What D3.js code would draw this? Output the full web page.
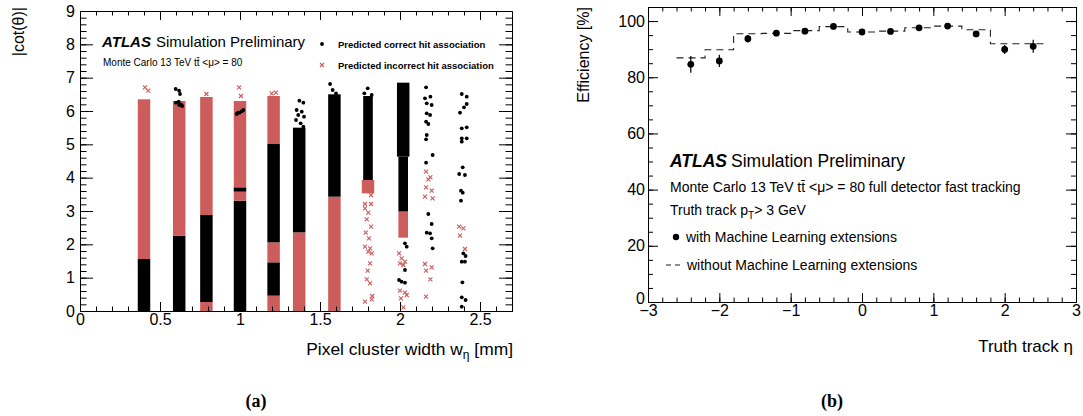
<!DOCTYPE html>
<html>
<head>
<meta charset="utf-8">
<script src="https://cdn.jsdelivr.net/npm/d3@7"></script>
<style>
  body { margin: 0; background: #fff; }
  svg { display: block; font-family: "Liberation Sans", Arial, sans-serif; }
</style>
</head>
<body>
<div id="chart"></div>
<script>
const width = 1083, height = 416;

// ---- panel (a) data: cluster width [mm] vs |cot(theta)|
const xTicksA = [0, 0.5, 1, 1.5, 2, 2.5];
const yTicksA = [0, 1, 2, 3, 4, 5, 6, 7, 8, 9];
// dense parts of each column: [width, from, to, type, dense]
const bandsA = [
  [0.40, 0, 1.56, 'c', 1], [0.40, 1.56, 6.35, 'i', 1],
  [0.62, 0, 2.26, 'c', 1], [0.62, 2.26, 6.30, 'i', 1],
  [0.79, 0, 0.27, 'i', 1], [0.79, 0.27, 2.88, 'c', 1], [0.79, 2.88, 6.42, 'i', 1],
  [1.00, 0, 3.31, 'c', 1], [1.00, 3.31, 3.58, 'i', 1], [1.00, 3.58, 3.71, 'c', 1], [1.00, 3.71, 6.30, 'i', 1],
  [1.21, 0, 0.46, 'i', 1], [1.21, 0.46, 1.46, 'c', 1], [1.21, 1.46, 2.06, 'i', 1],
  [1.21, 2.06, 5.01, 'c', 1], [1.21, 5.01, 6.45, 'i', 1],
  [1.37, 0, 2.36, 'i', 1], [1.37, 2.36, 5.50, 'c', 1],
  [1.59, 0, 3.43, 'i', 1], [1.59, 3.43, 6.50, 'c', 1],
  [1.80, 3.53, 3.93, 'i', 1], [1.80, 3.93, 6.45, 'c', 0],
  [2.02, 4.63, 6.85, 'c', 1], [2.02, 2.98, 4.63, 'c', 0], [2.02, 2.20, 2.98, 'i', 0]
];
const correctPts = [
  [0.598, 6.66], [0.619, 6.61], [0.625, 6.51], [0.600, 6.25], [0.617, 6.28], [0.631, 6.20], [0.639, 6.15], [0.620, 6.18],
  [0.979, 5.91], [0.996, 5.95], [1.011, 5.99], [1.021, 6.03], [0.988, 5.95],
  [1.371, 6.31], [1.396, 6.25], [1.354, 6.03], [1.386, 5.98], [1.364, 5.88], [1.400, 5.83], [1.350, 5.73], [1.379, 5.63], [1.396, 5.53],
  [1.563, 6.81], [1.579, 6.63], [1.600, 6.53],
  [1.798, 6.68], [1.777, 6.53], [1.823, 6.48],
  [2.031, 2.03], [2.042, 1.93], [2.031, 1.23], [1.994, 0.93], [2.010, 0.88], [2.031, 0.85],
  [2.163, 6.71], [2.156, 6.38], [2.190, 6.43], [2.167, 6.23], [2.198, 6.18], [2.167, 5.93], [2.188, 5.88],
  [2.163, 5.68], [2.177, 5.61], [2.167, 5.28], [2.163, 5.15], [2.204, 4.68], [2.163, 4.45], [2.177, 2.91],
  [2.198, 2.61], [2.167, 2.35], [2.188, 2.33], [2.198, 2.18], [2.204, 1.88],
  [2.386, 6.51], [2.417, 6.43], [2.400, 6.11], [2.375, 5.95], [2.417, 6.21], [2.386, 5.48], [2.417, 5.51],
  [2.386, 5.18], [2.386, 5.08], [2.417, 5.18], [2.392, 4.31], [2.370, 4.11], [2.406, 4.08], [2.381, 3.61],
  [2.392, 3.55], [2.381, 3.31], [2.396, 1.73], [2.410, 1.65], [2.386, 1.48], [2.406, 1.48], [2.390, 0.86],
  [2.386, 0.41], [2.410, 0.33], [2.386, 0.13]
];
const incorrectPts = [
  [0.406, 6.71], [0.427, 6.61], [0.790, 6.51], [0.994, 6.71], [1.006, 6.45], [1.198, 6.53], [1.225, 6.55],
  [1.819, 3.48], [1.781, 3.21], [1.819, 3.21], [1.781, 3.08], [1.802, 2.95], [1.792, 2.75], [1.819, 2.53],
  [1.786, 2.35], [1.806, 2.18], [1.781, 1.93], [1.813, 1.88], [1.802, 1.78], [1.823, 1.73], [1.813, 1.43],
  [1.798, 1.21], [1.792, 0.95], [1.813, 0.83], [1.827, 0.45], [1.823, 0.35], [1.781, 0.28],
  [1.994, 1.73], [2.010, 1.58], [2.031, 1.48], [2.000, 1.43], [2.021, 1.38], [2.000, 0.61], [2.031, 0.55],
  [2.006, 0.38], [2.042, 0.48], [2.021, 0.11],
  [2.163, 4.18], [2.190, 4.01], [2.177, 3.95], [2.163, 3.71], [2.198, 3.61], [2.156, 3.43], [2.204, 3.38],
  [2.156, 1.41], [2.198, 1.31], [2.163, 1.21], [2.190, 0.95], [2.163, 0.43],
  [2.370, 2.53], [2.396, 2.48], [2.375, 2.26], [2.406, 1.86]
];

// ---- panel (b) data: efficiency vs truth eta
const xTicksB = [-3, -2, -1, 0, 1, 2, 3];
const yTicksB = [0, 20, 40, 60, 80, 100];
const etaBins = [-2.4, -2.0, -1.6, -1.2, -0.8, -0.4, 0, 0.4, 0.8, 1.2, 1.6, 2.0, 2.4];
const effML = [84.6, 85.8, 93.7, 95.7, 96.4, 98.1, 96.1, 96.3, 97.6, 98.2, 95.4, 89.9, 91.0];
const effErr = [3.0, 2.2, 1.3, 0.6, 0.5, 0.5, 0.5, 0.5, 0.5, 0.5, 0.7, 1.6, 2.3];
const effNoML = [86.9, 89.8, 95.5, 95.6, 96.6, 98.0, 96.1, 96.4, 97.6, 98.2, 96.9, 91.9, 91.9];
const binHalf = 0.2;

const red = '#cd5c5c';

const svg = d3.select('#chart').append('svg')
  .attr('width', width)
  .attr('height', height)
  .attr('viewBox', [0, 0, width, height]);

const xA = d3.scaleLinear().domain([0, 2.7]).range([80, 512]);
const yA = d3.scaleLinear().domain([0, 9]).range([311, 11]);
const xB = d3.scaleLinear().domain([-3, 3]).range([648, 1076]);
const yB = d3.scaleLinear().domain([0, 105]).range([302, 7]);

// ROOT-like frame: ticks inside on all four sides
function drawFrame(x, y, xt, yt, xMinor, yMinor, tl, pad) {
  const [x0, x1] = x.range();
  const [y0, y1] = y.range();
  const g = svg.append('g').attr('class', 'frame');
  const style = sel => {
    sel.attr('font-size', 16).attr('font-family', '"Liberation Sans", Arial, sans-serif');
    sel.selectAll('path, line').attr('stroke', '#000');
    sel.selectAll('text').attr('fill', '#000');
  };
  g.append('g').attr('transform', `translate(0,${y0})`)
    .call(d3.axisBottom(x).tickValues(xt).tickSize(-tl.xMaj).tickSizeOuter(0).tickPadding(pad.x).tickFormat(d3.format('')))
    .call(style);
  g.append('g').attr('transform', `translate(0,${y0})`)
    .call(d3.axisBottom(x).tickValues(xMinor).tickSize(-tl.xMin).tickSizeOuter(0).tickFormat(''))
    .call(style);
  g.append('g').attr('transform', `translate(0,${y1})`)
    .call(d3.axisTop(x).tickValues(xt).tickSize(-tl.xMaj).tickSizeOuter(0).tickFormat(''))
    .call(style);
  g.append('g').attr('transform', `translate(0,${y1})`)
    .call(d3.axisTop(x).tickValues(xMinor).tickSize(-tl.xMin).tickSizeOuter(0).tickFormat(''))
    .call(style);
  g.append('g').attr('transform', `translate(${x0},0)`)
    .call(d3.axisLeft(y).tickValues(yt).tickSize(-tl.yMaj).tickSizeOuter(0).tickPadding(pad.y).tickFormat(d3.format('')))
    .call(style);
  g.append('g').attr('transform', `translate(${x0},0)`)
    .call(d3.axisLeft(y).tickValues(yMinor).tickSize(-tl.yMin).tickSizeOuter(0).tickFormat(''))
    .call(style);
  g.append('g').attr('transform', `translate(${x1},0)`)
    .call(d3.axisRight(y).tickValues(yt).tickSize(-tl.yMaj).tickSizeOuter(0).tickFormat(''))
    .call(style);
  g.append('g').attr('transform', `translate(${x1},0)`)
    .call(d3.axisRight(y).tickValues(yMinor).tickSize(-tl.yMin).tickSizeOuter(0).tickFormat(''))
    .call(style);
  return g;
}

// ---- panel (a)
const plotA = svg.append('g').attr('class', 'scatter');
plotA.selectAll('.band')
  .data(bandsA)
  .join('rect')
    .attr('class', 'band')
    .attr('x', d => xA(d[0] - (d[4] ? 0.039 : 0.03)))
    .attr('width', d => xA(d[4] ? 0.078 : 0.06) - xA(0))
    .attr('y', d => yA(d[2]))
    .attr('height', d => yA(d[1]) - yA(d[2]))
    .attr('fill', d => d[3] === 'c' ? '#000' : red);
plotA.selectAll('.bad')
  .data(incorrectPts)
  .join('path')
    .attr('class', 'bad')
    .attr('transform', d => `translate(${xA(d[0])},${yA(d[1])})`)
    .attr('d', 'M-2,-2L2,2M-2,2L2,-2')
    .attr('stroke', red)
    .attr('stroke-width', 1.1);
plotA.selectAll('.good')
  .data(correctPts)
  .join('circle')
    .attr('class', 'good')
    .attr('cx', d => xA(d[0]))
    .attr('cy', d => yA(d[1]))
    .attr('r', 1.9)
    .attr('fill', '#000');

drawFrame(xA, yA, xTicksA, yTicksA,
  d3.range(0, 27).map(i => i / 10), d3.range(0, 46).map(i => i / 5),
  {xMaj: 9, xMin: 4.5, yMaj: 13, yMin: 6.5}, {x: 2.5, y: 5});

svg.append('text')
    .attr('transform', 'translate(24,7) rotate(-90)')
    .attr('text-anchor', 'end')
    .attr('font-size', 16)
    .text('|cot(θ)|');
const xlabA = svg.append('text')
    .attr('x', 513).attr('y', 355)
    .attr('text-anchor', 'end')
    .attr('font-size', 17.4);
xlabA.append('tspan').text('Pixel cluster width w');
xlabA.append('tspan').attr('dy', 4).attr('font-size', 12).text('η');
xlabA.append('tspan').attr('dy', -4).text(' [mm]');

const atlasA = svg.append('text').attr('x', 102).attr('y', 47).attr('font-size', 15);
atlasA.append('tspan').attr('font-weight', 'bold').attr('font-style', 'italic').text('ATLAS');
atlasA.append('tspan').attr('dx', 5).text('Simulation Preliminary');
svg.append('text').attr('x', 103).attr('y', 66).attr('font-size', 10)
    .text('Monte Carlo 13 TeV tt\u0304 <μ> = 80');

svg.append('circle').attr('cx', 322).attr('cy', 44).attr('r', 1.9).attr('fill', '#000');
svg.append('path').attr('transform', 'translate(322,65)')
    .attr('d', 'M-2,-2L2,2M-2,2L2,-2').attr('stroke', red).attr('stroke-width', 1.1);
svg.append('text').attr('x', 338).attr('y', 47.5).attr('font-size', 9.5).attr('font-weight', 'bold')
    .text('Predicted correct hit association');
svg.append('text').attr('x', 338).attr('y', 68.5).attr('font-size', 9.5).attr('font-weight', 'bold')
    .text('Predicted incorrect hit association');

// ---- panel (b)
const frameB = drawFrame(xB, yB, xTicksB, yTicksB,
  d3.range(-15, 16).map(i => i / 5), d3.range(0, 22).map(i => i * 5),
  {xMaj: 9, xMin: 4.5, yMaj: 10, yMin: 5}, {x: 2.5, y: 3});
// lift the y "0" a little so it clears the "−3" below it
frameB.selectAll('text').filter(function(d) { return d === 0 && this.getAttribute('x') !== null && +this.getAttribute('x') < 0; })
    .attr('dy', '0.1em');

const stepPts = etaBins.map((e, i) => [e - binHalf, effNoML[i]]);
stepPts.push([etaBins[etaBins.length - 1] + binHalf, effNoML[effNoML.length - 1]]);
svg.append('path')
    .attr('d', d3.line().x(d => xB(d[0])).y(d => yB(d[1])).curve(d3.curveStepAfter)(stepPts))
    .attr('fill', 'none')
    .attr('stroke', '#222')
    .attr('stroke-width', 1.1)
    .attr('stroke-dasharray', '7,5');

const pts = svg.append('g').attr('class', 'eff')
  .selectAll('g')
  .data(etaBins.map((e, i) => ({eta: e, eff: effML[i], err: effErr[i]})))
  .join('g');
pts.append('line')
    .attr('x1', d => xB(d.eta)).attr('x2', d => xB(d.eta))
    .attr('y1', d => yB(d.eff - d.err)).attr('y2', d => yB(d.eff + d.err))
    .attr('stroke', '#000').attr('stroke-width', 1.2);
pts.append('circle')
    .attr('cx', d => xB(d.eta)).attr('cy', d => yB(d.eff))
    .attr('r', 3.4).attr('fill', '#000');

svg.append('text')
    .attr('transform', 'translate(589,7) rotate(-90)')
    .attr('text-anchor', 'end')
    .attr('font-size', 16)
    .text('Efficiency [%]');
svg.append('text')
    .attr('x', 1073).attr('y', 352)
    .attr('text-anchor', 'end')
    .attr('font-size', 17)
    .text('Truth track η');

const atlasB = svg.append('text').attr('x', 670).attr('y', 167).attr('font-size', 17.5);
atlasB.append('tspan').attr('font-weight', 'bold').attr('font-style', 'italic').text('ATLAS');
atlasB.append('tspan').attr('dx', 4).text('Simulation Preliminary');
svg.append('text').attr('x', 670).attr('y', 192).attr('font-size', 14)
    .text('Monte Carlo 13 TeV tt\u0304 <μ> = 80 full detector fast tracking');
const ptText = svg.append('text').attr('x', 670).attr('y', 215).attr('font-size', 14);
ptText.append('tspan').text('Truth track p');
ptText.append('tspan').attr('dy', 3.5).attr('font-size', 10).text('T');
ptText.append('tspan').attr('dy', -3.5).text('> 3 GeV');

svg.append('circle').attr('cx', 676).attr('cy', 237).attr('r', 3.2).attr('fill', '#000');
svg.append('text').attr('x', 686).attr('y', 242).attr('font-size', 14)
    .text('with Machine Learning extensions');
svg.append('line').attr('x1', 666).attr('x2', 681).attr('y1', 265).attr('y2', 265)
    .attr('stroke', '#222').attr('stroke-width', 1.1).attr('stroke-dasharray', '5,4');
svg.append('text').attr('x', 687).attr('y', 270).attr('font-size', 14)
    .text('without Machine Learning extensions');

// captions
svg.append('text').attr('x', 256).attr('y', 407).attr('text-anchor', 'middle')
    .attr('font-family', '"Liberation Serif", serif').attr('font-weight', 'bold').attr('font-size', 18)
    .text('(a)');
svg.append('text').attr('x', 832).attr('y', 407).attr('text-anchor', 'middle')
    .attr('font-family', '"Liberation Serif", serif').attr('font-weight', 'bold').attr('font-size', 18)
    .text('(b)');
</script>
</body>
</html>
